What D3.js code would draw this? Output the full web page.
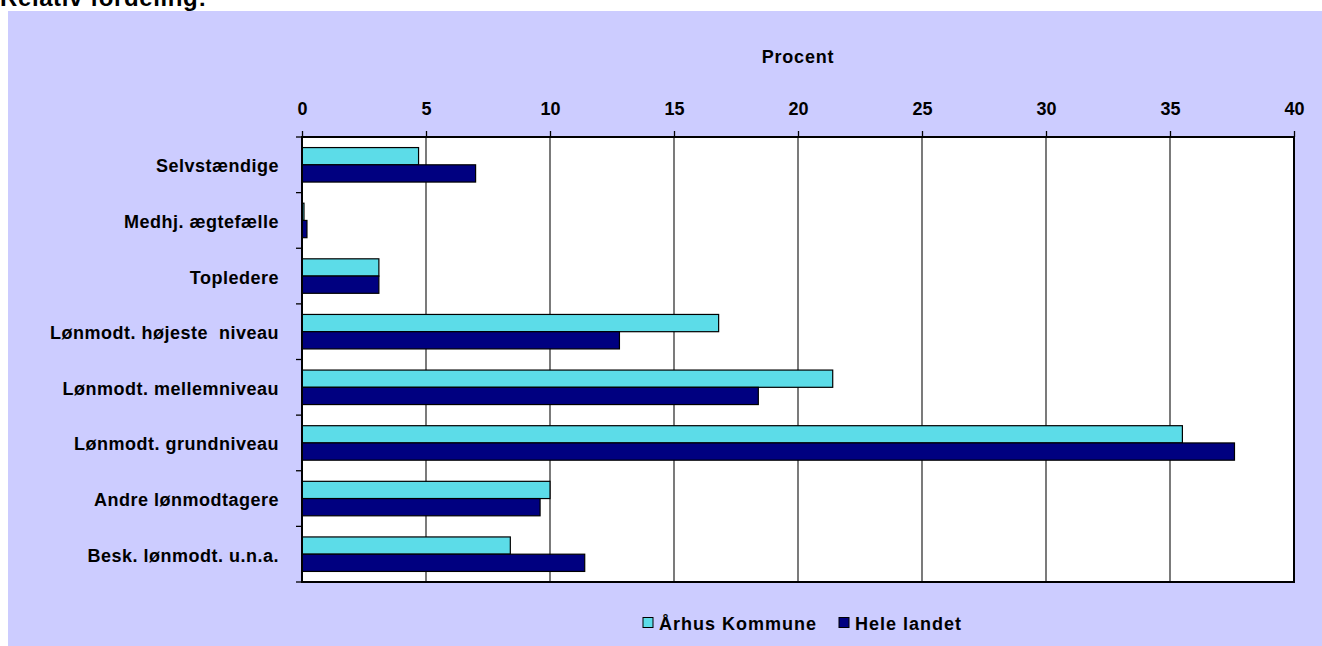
<!DOCTYPE html>
<html>
<head>
<meta charset="utf-8">
<script src="https://cdn.jsdelivr.net/npm/d3@7"></script>
<style>
  body { margin: 0; background: #fff; }
  svg text { font-family: "Liberation Sans", Arial, sans-serif; font-weight: bold; fill: #000; }
</style>
</head>
<body>
<svg id="viz" width="1322" height="646"></svg>
<script>
const categories = ["Selvstændige", "Medhj. ægtefælle", "Topledere", "Lønmodt. højeste  niveau",
  "Lønmodt. mellemniveau", "Lønmodt. grundniveau", "Andre lønmodtagere", "Besk. lønmodt. u.n.a."];
const aarhus = [4.7, 0.08, 3.1, 16.8, 21.4, 35.5, 10.0, 8.4];
const heleLandet = [7.0, 0.2, 3.1, 12.8, 18.4, 37.6, 9.6, 11.4];
const seriesNames = ["Århus Kommune", "Hele landet"];
const xTicks = [0, 5, 10, 15, 20, 25, 30, 35, 40];

const colors = ["#5CDCE8", "#000080"];
const svg = d3.select("#viz");

// title, cut off at the top like in the source
svg.append("text")
  .attr("x", 0).attr("y", 6)
  .style("font-size", "24px")
  .style("letter-spacing", "0.6px")
  .text("Relativ fordeling:");

// chart background
svg.append("rect")
  .attr("x", 8).attr("y", 11)
  .attr("width", 1314).attr("height", 640)
  .attr("fill", "#CCCCFF");

const plotLeft = 302, plotRight = 1294, plotTop = 137, plotBottom = 582;

const x = d3.scaleLinear().domain([0, 40]).range([plotLeft, plotRight]);
const y = d3.scaleBand().domain(categories).range([plotTop, plotBottom]).paddingInner(0.38).paddingOuter(0.19);

svg.append("rect")
  .attr("x", plotLeft).attr("y", plotTop)
  .attr("width", plotRight - plotLeft).attr("height", plotBottom - plotTop)
  .attr("fill", "#fff");

// grid lines
svg.append("g")
  .selectAll("line")
  .data(xTicks.slice(1, -1))
  .join("line")
  .attr("x1", d => x(d)).attr("x2", d => x(d))
  .attr("y1", plotTop).attr("y2", plotBottom)
  .attr("stroke", "#333").attr("stroke-width", 1.3);

// bars
const rows = categories.map((c, i) => ({ c, vals: [aarhus[i], heleLandet[i]] }));
const bh = y.bandwidth() / 2;
rows.forEach(r => {
  r.vals.forEach((v, j) => {
    svg.append("rect")
      .attr("x", x(0))
      .attr("y", y(r.c) + j * bh)
      .attr("width", x(v) - x(0))
      .attr("height", bh)
      .attr("fill", colors[j])
      .attr("stroke", "#000")
      .attr("stroke-width", 1.2);
  });
});

// plot border
svg.append("rect")
  .attr("x", plotLeft).attr("y", plotTop)
  .attr("width", plotRight - plotLeft).attr("height", plotBottom - plotTop)
  .attr("fill", "none").attr("stroke", "#000").attr("stroke-width", 2);

// top axis
const xAxis = svg.append("g")
  .attr("transform", `translate(0,${plotTop})`)
  .call(d3.axisTop(x).tickValues(xTicks).tickSize(6).tickPadding(16));
xAxis.select(".domain").remove();
xAxis.selectAll("line").attr("stroke", "#000").attr("stroke-width", 1.3);
xAxis.selectAll("text")
  .style("font-size", "18px")
  .style("font-family", "Liberation Sans, Arial, sans-serif");

// left axis with ticks at band boundaries
const boundaries = categories.map(c => y(c) - y.step() * y.paddingInner() / 2).concat([plotBottom]);
boundaries[0] = plotTop;
svg.append("g")
  .selectAll("line")
  .data(boundaries)
  .join("line")
  .attr("x1", plotLeft - 6).attr("x2", plotLeft)
  .attr("y1", d => d).attr("y2", d => d)
  .attr("stroke", "#000").attr("stroke-width", 1.3);

svg.append("g")
  .selectAll("text")
  .data(categories)
  .join("text")
  .attr("x", 279)
  .attr("y", d => y(d) + y.bandwidth() / 2)
  .attr("dy", "0.42em")
  .attr("text-anchor", "end")
  .style("font-size", "18px")
  .style("letter-spacing", "0.5px")
  .style("white-space", "pre")
  .text(d => d);

svg.append("text")
  .attr("x", (plotLeft + plotRight) / 2).attr("y", 63)
  .attr("text-anchor", "middle")
  .style("font-size", "18px")
  .style("letter-spacing", "0.8px")
  .text("Procent");

// legend
const legend = svg.append("g");
const legX = [643, 839];
seriesNames.forEach((name, i) => {
  legend.append("rect")
    .attr("x", legX[i]).attr("y", 617.5)
    .attr("width", 10).attr("height", 10)
    .attr("fill", colors[i]).attr("stroke", "#000").attr("stroke-width", 1);
  legend.append("text")
    .attr("x", legX[i] + 16).attr("y", 630)
    .style("font-size", "18px")
    .style("letter-spacing", "1px")
    .text(name);
});
</script>
</body>
</html>
